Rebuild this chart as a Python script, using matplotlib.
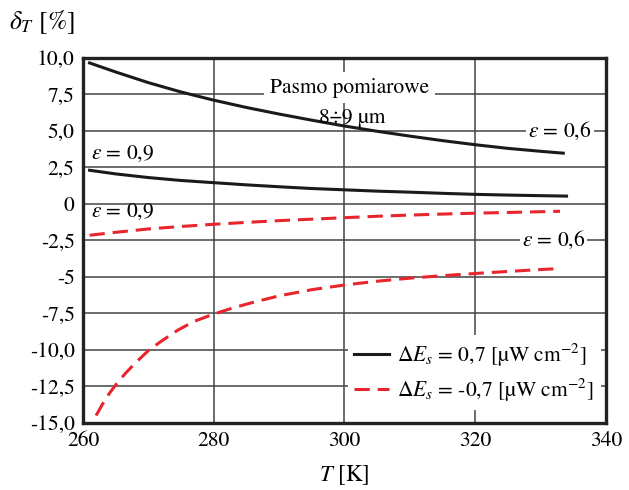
import matplotlib
matplotlib.use("Agg")
from matplotlib import pyplot as plt

plt.rcParams["font.family"] = "STIXGeneral"
plt.rcParams["mathtext.fontset"] = "stix"

# delta_T [%] versus T [K], measuring band 8-9 um
t_pos_06 = [261, 265, 270, 275, 280, 285, 290, 295, 300, 305, 310, 315, 320, 325, 330, 333.5]
d_pos_06 = [9.65, 9.03, 8.3, 7.66, 7.1, 6.6, 6.15, 5.73, 5.33, 4.97, 4.64, 4.33, 4.05, 3.8, 3.6, 3.47]

t_pos_09 = [261, 265, 270, 275, 280, 285, 290, 295, 300, 305, 310, 315, 320, 325, 330, 334]
d_pos_09 = [2.3, 2.05, 1.8, 1.6, 1.45, 1.3, 1.17, 1.05, 0.96, 0.87, 0.8, 0.72, 0.65, 0.6, 0.56, 0.53]

t_neg_09 = [261, 265, 270, 275, 280, 285, 290, 295, 300, 305, 310, 315, 320, 325, 330, 333]
d_neg_09 = [-2.15, -1.95, -1.72, -1.55, -1.4, -1.27, -1.15, -1.05, -0.95, -0.85, -0.77, -0.7, -0.64, -0.59, -0.54, -0.51]

t_neg_06 = [262, 263, 264, 265, 266.5, 268, 270, 272, 274.5, 277, 280, 283, 286, 290,
            295, 300, 305, 310, 315, 320, 325, 330, 333]
d_neg_06 = [-14.5, -13.7, -13.0, -12.4, -11.6, -10.9, -10.05, -9.4, -8.65, -8.05, -7.55, -7.12,
            -6.75, -6.3, -5.88, -5.56, -5.3, -5.09, -4.92, -4.77, -4.63, -4.5, -4.43]

xticks = [260, 280, 300, 320, 340]
yticks = [10, 7.5, 5, 2.5, 0, -2.5, -5, -7.5, -10, -12.5, -15]
ytick_labels = ["10,0", "7,5", "5,0", "2,5", "0", "-2,5", "-5", "-7,5", "-10,0", "-12,5", "-15,0"]

red = "#e8242c"
dash = (0, (5, 2.6))
fs = 15.5

fig = plt.figure(figsize=(6.29, 4.90), dpi=100)
ax = fig.add_axes([0.132, 0.137, 0.831, 0.745])

ax.plot(t_pos_06, d_pos_06, color="#1a1a1a", lw=2.2, zorder=3,
        label=r"$\Delta E_s$ = 0,7 [µW cm$^{-2}$]")
ax.plot(t_pos_09, d_pos_09, color="#1a1a1a", lw=2.2, zorder=3)
ax.plot(t_neg_09, d_neg_09, color=red, lw=2.2, ls=dash, zorder=3,
        label=r"$\Delta E_s$ = -0,7 [µW cm$^{-2}$]")
ax.plot(t_neg_06, d_neg_06, color=red, lw=2.2, ls=dash, zorder=3)

ax.set_xlim(260, 340)
ax.set_ylim(-15, 10)
ax.set_xticks(xticks)
ax.set_yticks(yticks)
ax.set_yticklabels(ytick_labels)
ax.tick_params(length=0, labelsize=fs, pad=6)
ax.grid(True, color="#444444", lw=1.1, zorder=0)
ax.set_axisbelow(True)
for s in ax.spines.values():
    s.set_linewidth(2.4)
    s.set_color("#222222")

box = dict(facecolor="white", edgecolor="none", pad=1.5)
ax.text(300.8, 7.95, "Pasmo pomiarowe", fontsize=fs, ha="center", va="center",
        bbox=dict(facecolor="white", edgecolor="none", pad=4), zorder=4)
ax.text(301.2, 5.9, "8÷9 µm", fontsize=fs, ha="center", va="center", zorder=4)
ax.text(333, 5.0, r"$\varepsilon$ = 0,6", fontsize=fs, ha="center", va="center",
        bbox=box, zorder=4)
ax.text(332, -2.5, r"$\varepsilon$ = 0,6", fontsize=fs, ha="center", va="center",
        bbox=box, zorder=4)
ax.text(261.2, 3.4, r"$\varepsilon$ = 0,9", fontsize=fs, ha="left", va="center", zorder=4)
ax.text(261.2, -0.55, r"$\varepsilon$ = 0,9", fontsize=fs, ha="left", va="center", zorder=4)

leg = ax.legend(loc="lower right", bbox_to_anchor=(0.99, 0.035), fontsize=fs,
                frameon=True, facecolor="white", edgecolor="none", framealpha=1,
                fancybox=False, handlelength=1.6, handletextpad=0.4,
                labelspacing=0.35, borderpad=0.3, borderaxespad=0)
leg.set_zorder(5)

fig.text(0.015, 0.955, r"$\delta_T$ [%]", fontsize=fs + 3, ha="left", va="center")
ax.set_xlabel(r"$T$ [K]", fontsize=fs + 1, labelpad=9)

fig.savefig("out.png", dpi=100)
